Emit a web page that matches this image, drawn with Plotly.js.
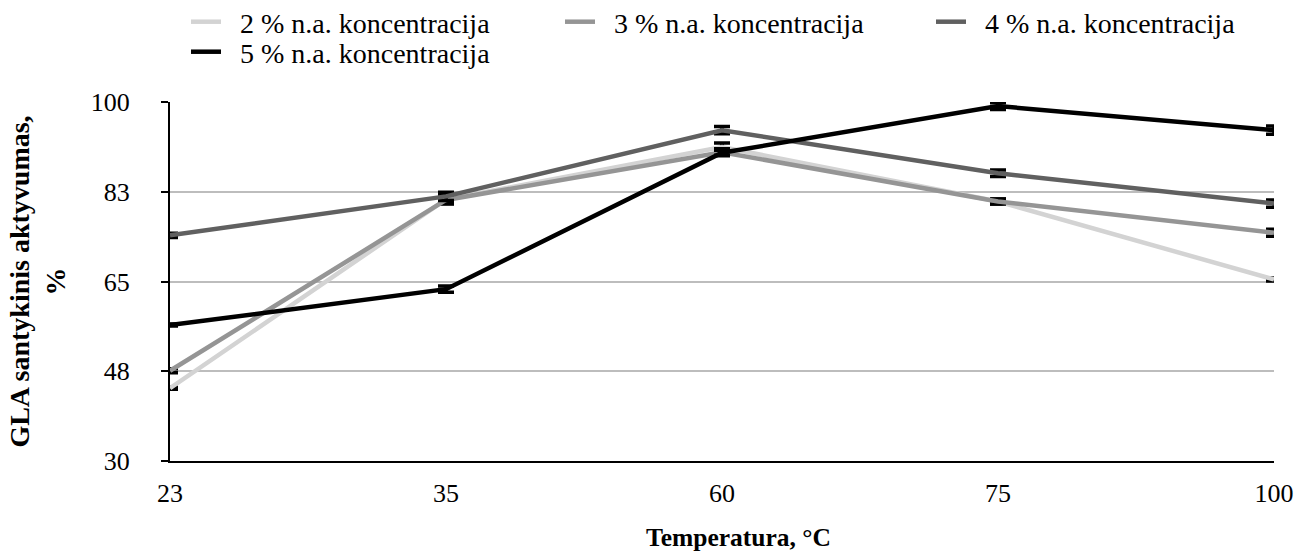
<!DOCTYPE html>
<html>
<head>
<meta charset="utf-8">
<script src="https://cdn.plot.ly/plotly-3.0.1.min.js"></script>
<style>
  html, body { margin: 0; padding: 0; background: #fff; }
  #chart { width: 1296px; height: 552px; }
</style>
</head>
<body>
<div id="chart"></div>
<script>
// Temperature categories (°C)
const temperatures = ['23', '35', '60', '75', '100'];

// Relative GLA activity (%) for each substrate concentration
const conc2 = [44.2, 81.0, 91.2, 80.6, 65.4];
const conc3 = [47.6, 80.9, 90.2, 80.6, 74.5];
const conc4 = [74.0, 81.6, 94.5, 86.1, 80.2];
const conc5 = [56.5, 63.5, 90.1, 99.2, 94.5];

// Error bar half-widths (%)
const err2 = [0.2, 0.8, 0.8, 0.5, 0.3];
const err3 = [0.4, 0.8, 0.7, 0.5, 0.7];
const err4 = [0.4, 0.8, 0.7, 0.65, 0.7];
const err5 = [0.2, 0.6, 0.5, 0.65, 0.8];

const seriesNames = [
  '2 % n.a. koncentracija',
  '3 % n.a. koncentracija',
  '4 % n.a. koncentracija',
  '5 % n.a. koncentracija'
];

// Y ticks every 17.5 %, labelled rounded
const yTickVals = [30, 47.5, 65, 82.5, 100];
const yTickText = ['30', '48', '65', '83', '100'];

const colors = ['#d3d3d3', '#959595', '#606060', '#000000'];
const values = [conc2, conc3, conc4, conc5];
const errors = [err2, err3, err4, err5];
const legendIds = ['legend', 'legend2', 'legend3', 'legend4'];

// Two no-break spaces widen the gap between key line and label
const pad = '\u00a0\u00a0';

const traces = values.map((v, i) => ({
  type: 'scatter',
  mode: 'lines',
  x: temperatures,
  y: v,
  name: pad + seriesNames[i],
  legend: legendIds[i],
  line: { color: colors[i], width: 4.5 },
  error_y: {
    type: 'data',
    array: errors[i],
    visible: true,
    color: '#000000',
    thickness: 3.5,
    width: 8
  },
  cliponaxis: false
}));

const family = '"Liberation Serif", "Times New Roman", serif';
const f = (size) => ({ family: family, size: size, color: '#000' });

// One legend box per entry so the two-row key can be placed freely
function legendAt(leftPx, centerPx) {
  return {
    xref: 'container',
    yref: 'container',
    x: leftPx / 1296,
    xanchor: 'left',
    y: 1 - centerPx / 552,
    yanchor: 'middle',
    orientation: 'h',
    font: f(28),
    bgcolor: 'rgba(0,0,0,0)',
    itemwidth: 30
  };
}

const layout = {
  width: 1296,
  height: 552,
  margin: { l: 170, r: 22, t: 102, b: 91, autoexpand: false },
  paper_bgcolor: '#ffffff',
  plot_bgcolor: '#ffffff',
  font: f(20),
  showlegend: true,
  legend: legendAt(186, 22),
  legend2: legendAt(560, 22),
  legend3: legendAt(931, 22),
  legend4: legendAt(186, 52),
  xaxis: {
    type: 'category',
    range: [0, 4],
    showgrid: false,
    showline: true,
    linecolor: '#000',
    linewidth: 2,
    ticks: '',
    ticklabelstandoff: 8,
    tickfont: f(26),
    zeroline: false
  },
  yaxis: {
    range: [30, 100],
    tickvals: yTickVals,
    ticktext: yTickText,
    showgrid: true,
    gridcolor: '#bdbdbd',
    gridwidth: 2,
    showline: true,
    linecolor: '#000',
    linewidth: 2,
    ticks: 'outside',
    ticklen: 7,
    tickwidth: 2,
    tickcolor: '#000',
    ticklabelstandoff: 26,
    zeroline: false,
    tickfont: f(26),
    title: {
      text: '<b>GLA santykinis aktyvumas,<br>%</b>',
      font: f(28),
      standoff: 17
    }
  },
  annotations: [{
    // x-axis title, set slightly right of the plot centre
    text: '<b>Temperatura, °C</b>',
    xref: 'paper',
    yref: 'paper',
    x: 0.5145,
    y: -0.2117,
    xanchor: 'center',
    yanchor: 'middle',
    showarrow: false,
    font: f(25.5)
  }]
};

Plotly.newPlot('chart', traces, layout, { staticPlot: true, displayModeBar: false });
</script>
</body>
</html>
